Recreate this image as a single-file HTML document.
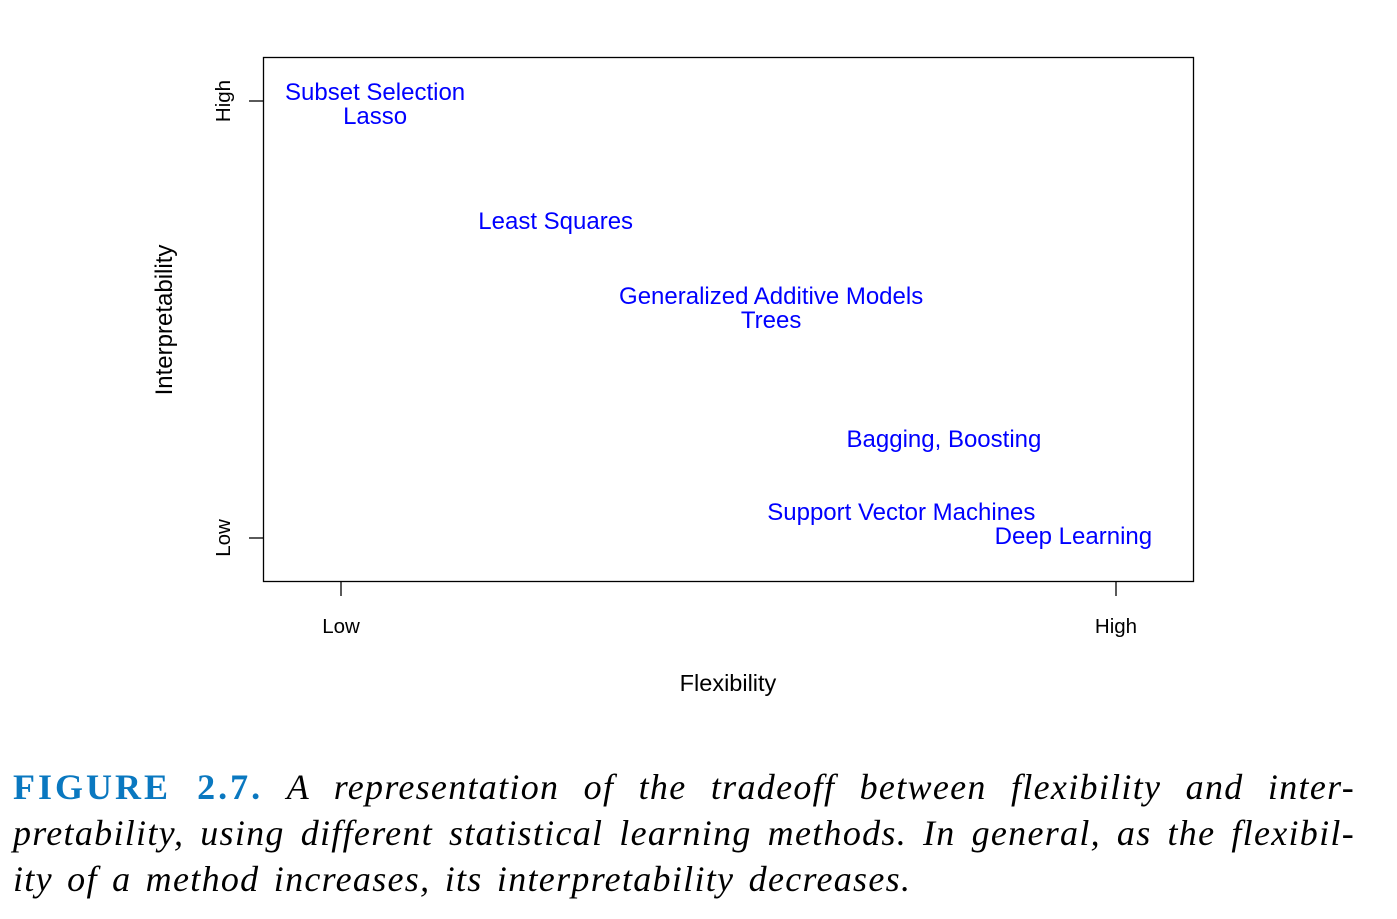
<!DOCTYPE html>
<html><head><meta charset="utf-8">
<style>
html,body{margin:0;padding:0;background:#fff;width:1397px;height:919px;overflow:hidden}
svg text{font-family:"Liberation Sans",sans-serif}
.cap{position:absolute;left:13px;width:1342px;font-family:"Liberation Serif",serif;font-style:italic;font-size:36px;letter-spacing:1.3px;line-height:46px;text-align:justify;text-align-last:justify;white-space:nowrap;color:#000}
.fig{font-style:normal;font-weight:bold;color:#0a78c0;letter-spacing:3px}
</style></head><body>
<svg id="chart" width="1397" height="740" style="position:absolute;left:0;top:0">
<rect x="263.5" y="57.5" width="930" height="524" fill="none" stroke="#000" stroke-width="1.3"/>
<g id="marks"></g>
<line x1="341" y1="581" x2="341" y2="596" stroke="#000" stroke-width="1.3"/>
<line x1="1116" y1="581" x2="1116" y2="596" stroke="#000" stroke-width="1.3"/>
<line x1="249" y1="101" x2="263" y2="101" stroke="#000" stroke-width="1.3"/>
<line x1="249" y1="538" x2="263" y2="538" stroke="#000" stroke-width="1.3"/>
<text x="341" y="633" font-size="20.5" text-anchor="middle">Low</text>
<text x="1116" y="633" font-size="20.5" text-anchor="middle">High</text>
<text transform="translate(230,101) rotate(-90)" font-size="20.5" text-anchor="middle">High</text>
<text transform="translate(230,538) rotate(-90)" font-size="20.5" text-anchor="middle">Low</text>
<text x="728" y="691" font-size="23.5" text-anchor="middle">Flexibility</text>
<text transform="translate(172,320) rotate(-90)" font-size="24" text-anchor="middle">Interpretability</text>
</svg>
<script>
const methods=["Subset Selection","Lasso","Least Squares","Generalized Additive Models","Trees","Bagging, Boosting","Support Vector Machines","Deep Learning"];
const flexibility=[0.044,0.044,0.277,0.555,0.555,0.778,0.723,0.945];
const interpretability=[1.021,0.966,0.725,0.554,0.499,0.227,0.059,0.005];
const xs=v=>341+v*(1116-341);
const ys=v=>538-v*(538-101);
const g=document.getElementById('marks');
methods.forEach((m,i)=>{
 const t=document.createElementNS('http://www.w3.org/2000/svg','text');
 t.setAttribute('x',xs(flexibility[i]));
 t.setAttribute('y',ys(interpretability[i])+8);
 t.setAttribute('font-size','24');
 t.setAttribute('fill','#0000ff');
 t.setAttribute('text-anchor','middle');
 t.textContent=m;
 
 
 g.appendChild(t);
});
</script>
<div class="cap" style="top:764px"><span class="fig">FIGURE 2.7.</span> A representation of the tradeoff between flexibility and inter-</div>
<div class="cap" style="top:810px">pretability, using different statistical learning methods. In general, as the flexibil-</div>
<div class="cap" style="top:856px;text-align-last:left;width:auto;word-spacing:4px">ity of a method increases, its interpretability decreases.</div>
</body></html>
